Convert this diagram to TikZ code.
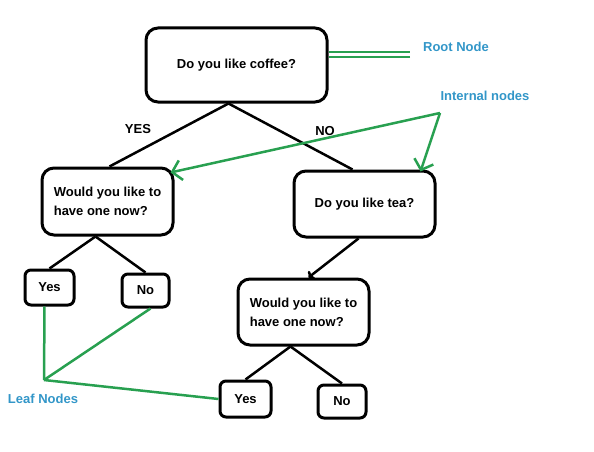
\documentclass[tikz,border=0pt]{standalone}
\usepackage{fontspec}
\setmainfont{Liberation Sans}
\usetikzlibrary{positioning,arrows.meta}
\definecolor{markgreen}{RGB}{40,160,80}
\definecolor{markblue}{RGB}{50,150,200}

\begin{document}
\begin{tikzpicture}[
			x=1pt,y=-1pt,
			font=\bfseries\fontsize{13}{19}\selectfont,
			qbox/.style={draw,line width=3pt,rounded corners=12pt,align=left},
			leaf/.style={draw,line width=3pt,rounded corners=6pt},
			branch/.style={line width=2.5pt},
			note/.style={text=markblue},
			pointer/.style={draw=markgreen,line width=2.5pt}
		]
		\useasboundingbox (0,0) rectangle (594,452);
		% questions
		\node[qbox,minimum width=181pt,minimum height=74pt] (coffee) at (236.5,65) {Do you like coffee?};
		\node[qbox,minimum width=131pt,minimum height=67pt] (nowA) at (107.5,201.5) {Would you like to\\have one now?};
		\node[qbox,minimum width=141pt,minimum height=66pt] (tea) at (364.5,204) {Do you like tea?};
		\node[qbox,minimum width=131pt,minimum height=66pt] (nowB) at (303.5,312) {Would you like to\\have one now?};
		% answers
		\node[leaf,minimum width=49pt,minimum height=35pt] (yesA) at (49.5,287.5) {Yes};
		\node[leaf,minimum width=47pt,minimum height=33pt] (noA) at (145.5,290.5) {No};
		\node[leaf,minimum width=51pt,minimum height=36pt] (yesB) at (245.5,399) {Yes};
		\node[leaf,minimum width=48pt,minimum height=33pt] (noB) at (342,401.5) {No};
		% branches
		\draw[branch] ([xshift=-8pt]coffee.south) -- ([xshift=2pt]nowA.north);
		\draw[branch] ([xshift=-8pt]coffee.south) -- ([xshift=-12pt]tea.north);
		\node (yes) at (138,129) {YES};
		\node (no) at (325,131) {NO};
		\draw[branch] ([xshift=-12pt]nowA.south) -- (yesA.north);
		\draw[branch] ([xshift=-12pt]nowA.south) -- (noA.north);
		\draw[branch,-{To[length=5pt]}] ([xshift=-6pt]tea.south) -- ([xshift=5pt]nowB.north);
		\draw[branch] ([xshift=-13pt]nowB.south) -- (yesB.north);
		\draw[branch] ([xshift=-13pt]nowB.south) -- (noB.north);
		% notes
		\node[note] (rootnote) at (456,47) {Root Node};
		\node[note] (innernote) at (485,96) {Internal nodes};
		\node[note] (leafnote) at (43,399) {Leaf Nodes};
		\coordinate (rootend) at (410,55);
		\coordinate (innerend) at (440,113);
		\coordinate (leafend) at (44,380);
		\draw[pointer,double=white,double distance=3pt,line width=2pt] (rootend) -- ([yshift=10pt]coffee.east);
		\draw[pointer,-{Straight Barb[length=9pt,width=20pt]}] (innerend) -- ([xshift=-4pt,yshift=-6pt]nowA.north east);
		\draw[pointer,-{Straight Barb[length=9pt,width=20pt]}] (innerend) -- ([xshift=-16pt,yshift=-2pt]tea.north east);
		\draw[pointer] ([xshift=-5pt]yesA.south) -- (leafend);
		\draw[pointer] ([xshift=5pt]noA.south) -- (leafend);
		\draw[pointer] (yesB.west) -- (leafend);
	\end{tikzpicture}
\end{document}
